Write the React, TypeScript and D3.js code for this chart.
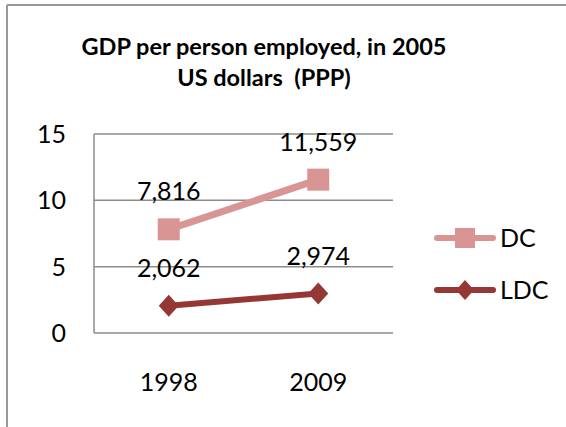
import React from "react";
import * as d3 from "d3";

const categories = ["1998", "2009"];
const dcValues = [7.816, 11.559];
const ldcValues = [2.062, 2.974];
const dcLabels = ["7,816", "11,559"];
const ldcLabels = ["2,062", "2,974"];
const yTicks = [0, 5, 10, 15];
const titleLines = ["GDP per person employed, in 2005", "US dollars  (PPP)"];
const seriesNames = ["DC", "LDC"];

const W = 566;
const H = 427;
const FONT = "Lato, 'Open Sans', sans-serif";
const DC_COLOR = "#D99594";
const LDC_COLOR = "#953735";

export default function App() {
  const x = d3.scaleBand().domain(categories).range([94, 393]);
  const y = d3.scaleLinear().domain([0, 15]).range([333, 134]);
  const cx = (c: string) => (x(c) ?? 0) + x.bandwidth() / 2;
  const line = d3
    .line<number>()
    .x((_, i) => cx(categories[i]))
    .y((v) => y(v));

  const sq = 22;
  const diamond = (px: number, py: number, w: number, h: number) =>
    `M${px},${py - h / 2}L${px + w / 2},${py}L${px},${py + h / 2}L${px - w / 2},${py}Z`;

  return (
    <svg
      width={W}
      height={H}
      style={{ position: "absolute", left: 0, top: 0, background: "#fff" }}
      fontFamily={FONT}
    >
      <rect x={0} y={0} width={W} height={H} fill="#fff" />
      {/* chart border */}
      <line x1={7} y1={5} x2={W} y2={5} stroke="#999" strokeWidth={2} />
      <line x1={7} y1={5} x2={7} y2={H} stroke="#999" strokeWidth={2} />

      {/* title */}
      {titleLines.map((t, i) => (
        <text
          key={i}
          x={264}
          y={55 + i * 31}
          textAnchor="middle"
          fontSize={23.5}
          fontWeight="bold"
          fill="#000"
          style={{ whiteSpace: "pre" }}
        >
          {t}
        </text>
      ))}

      {/* gridlines */}
      {yTicks.map((t) => (
        <line key={t} x1={94} x2={393} y1={y(t)} y2={y(t)} stroke="#8c8c8c" strokeWidth={1.5} />
      ))}
      <line x1={94} x2={94} y1={y(15)} y2={y(0)} stroke="#8c8c8c" strokeWidth={1.5} />

      {/* y tick labels */}
      {yTicks.map((t) => (
        <text key={t} x={66} y={y(t) + 9} textAnchor="end" fontSize={25} fill="#000">
          {t}
        </text>
      ))}

      {/* x labels */}
      {categories.map((c) => (
        <text key={c} x={cx(c)} y={391} textAnchor="middle" fontSize={25} fill="#000">
          {c}
        </text>
      ))}

      {/* DC series */}
      <path d={line(dcValues) ?? ""} fill="none" stroke={DC_COLOR} strokeWidth={7} />
      {dcValues.map((v, i) => (
        <rect
          key={i}
          x={cx(categories[i]) - sq / 2}
          y={y(v) - sq / 2}
          width={sq}
          height={sq}
          fill={DC_COLOR}
        />
      ))}
      {/* LDC series */}
      <path d={line(ldcValues) ?? ""} fill="none" stroke={LDC_COLOR} strokeWidth={6} />
      {ldcValues.map((v, i) => (
        <path key={i} d={diamond(cx(categories[i]), y(v), 20, 22)} fill={LDC_COLOR} />
      ))}

      {/* data labels */}
      {dcValues.map((v, i) => (
        <text key={i} x={cx(categories[i])} y={y(v) - 29} textAnchor="middle" fontSize={25} fill="#000">
          {dcLabels[i]}
        </text>
      ))}
      {ldcValues.map((v, i) => (
        <text key={i} x={cx(categories[i])} y={y(v) - 29} textAnchor="middle" fontSize={25} fill="#000">
          {ldcLabels[i]}
        </text>
      ))}

      {/* legend */}
      {seriesNames.map((s, i) => {
        const ly = 238 + i * 52;
        const col = i === 0 ? DC_COLOR : LDC_COLOR;
        return (
          <g key={s}>
            <line x1={437} x2={493} y1={ly} y2={ly} stroke={col} strokeWidth={6} strokeLinecap="round" />
            {i === 0 ? (
              <rect x={465 - 10} y={ly - 10} width={20} height={20} fill={col} />
            ) : (
              <path d={diamond(465, ly, 18, 20)} fill={col} />
            )}
            <text x={500} y={ly + 9} fontSize={25} fill="#000">
              {s}
            </text>
          </g>
        );
      })}
    </svg>
  );
}
